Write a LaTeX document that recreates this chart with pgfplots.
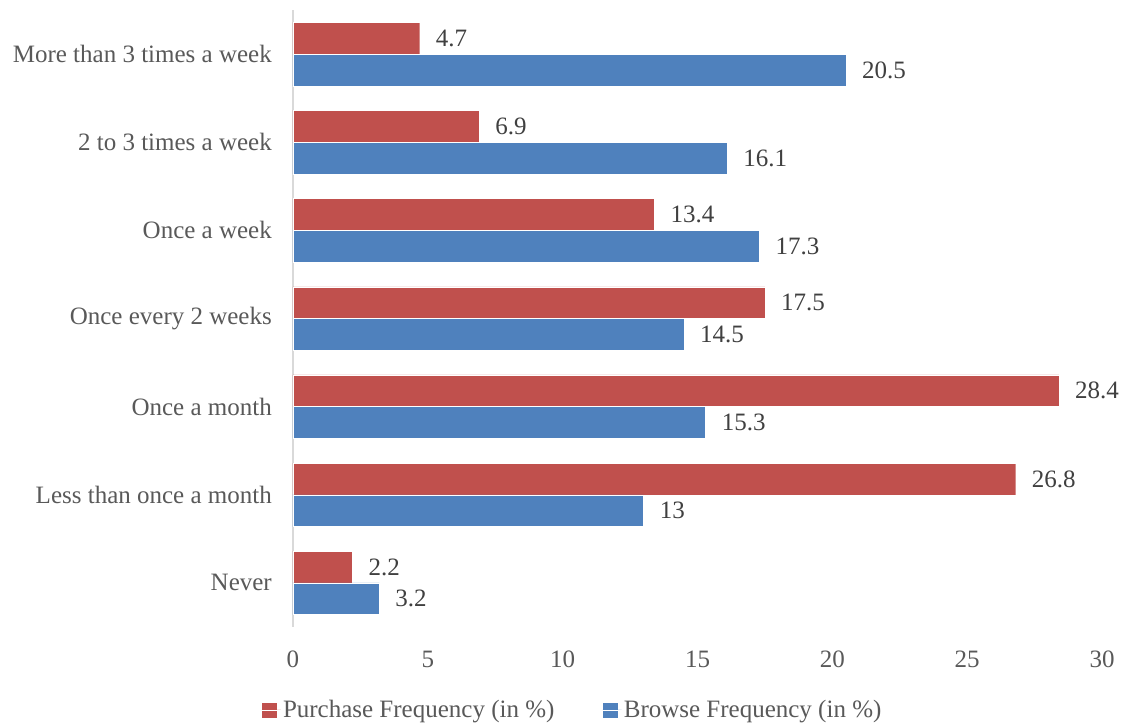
\documentclass[border=0pt]{standalone}
\usepackage{pgfplots}
\pgfplotsset{compat=1.18}
\usepackage{fontspec}
\setmainfont{Liberation Serif}
\definecolor{cred}{HTML}{C0504D}
\definecolor{cblue}{HTML}{4F81BD}
\definecolor{ticktext}{HTML}{595959}
\definecolor{datatext}{HTML}{404040}
\definecolor{axisgray}{HTML}{D9D9D9}
\begin{document}
\begin{tikzpicture}[x=1pt,y=1pt]
\useasboundingbox (0,0) rectangle (1124,727);
\begin{axis}[
  at={(293pt,100pt)}, anchor=south west,
  width=809pt, height=617pt, scale only axis,
  xmin=0, xmax=30, ymin=-0.5, ymax=6.5,
  xtick={0,5,...,30},
  ytick={0,...,6},
  yticklabels={Never, Less than once a month, Once a month, Once every 2 weeks, Once a week, 2 to 3 times a week, More than 3 times a week},
  axis lines*=left,
  x axis line style={draw=none},
  y axis line style={draw=axisgray, line width=1.5pt},
  major tick length=0pt,
  /pgf/number format/assume math mode=true,
  tick label style={font=\fontsize{25}{29}\selectfont, text=ticktext},
  yticklabel style={inner sep=0pt, xshift=-21pt},
  xticklabel style={inner sep=0pt, yshift=-24pt},
  xbar, bar width=0.36,
  point meta=x,
  nodes near coords,
  every node near coord/.append style={font=\fontsize{25}{29}\selectfont, text=datatext, anchor=west, inner sep=0pt, xshift=16pt},
  legend columns=2,
  legend style={at={(0.3455,-0.1345)}, anchor=center, draw=none, font=\fontsize{25}{29}\selectfont, text=ticktext, /tikz/every even column/.append style={column sep=46pt}},
  legend image code/.code={\fill[#1,draw=none] (0pt,-8pt) rectangle (15pt,7pt); \path (0pt,0pt) -- (19pt,0pt);},
]
\addplot[fill=cred, draw=white, line width=0.4pt, bar shift=0.18] coordinates {
 (2.2,0) (26.8,1) (28.4,2) (17.5,3) (13.4,4) (6.9,5) (4.7,6)};
\addlegendentry{Purchase Frequency (in \%)}
\addplot[fill=cblue, draw=white, line width=0.4pt, bar shift=-0.18] coordinates {
 (3.2,0) (13,1) (15.3,2) (14.5,3) (17.3,4) (16.1,5) (20.5,6)};
\addlegendentry{Browse Frequency (in \%)}
\end{axis}
\end{tikzpicture}
\end{document}
